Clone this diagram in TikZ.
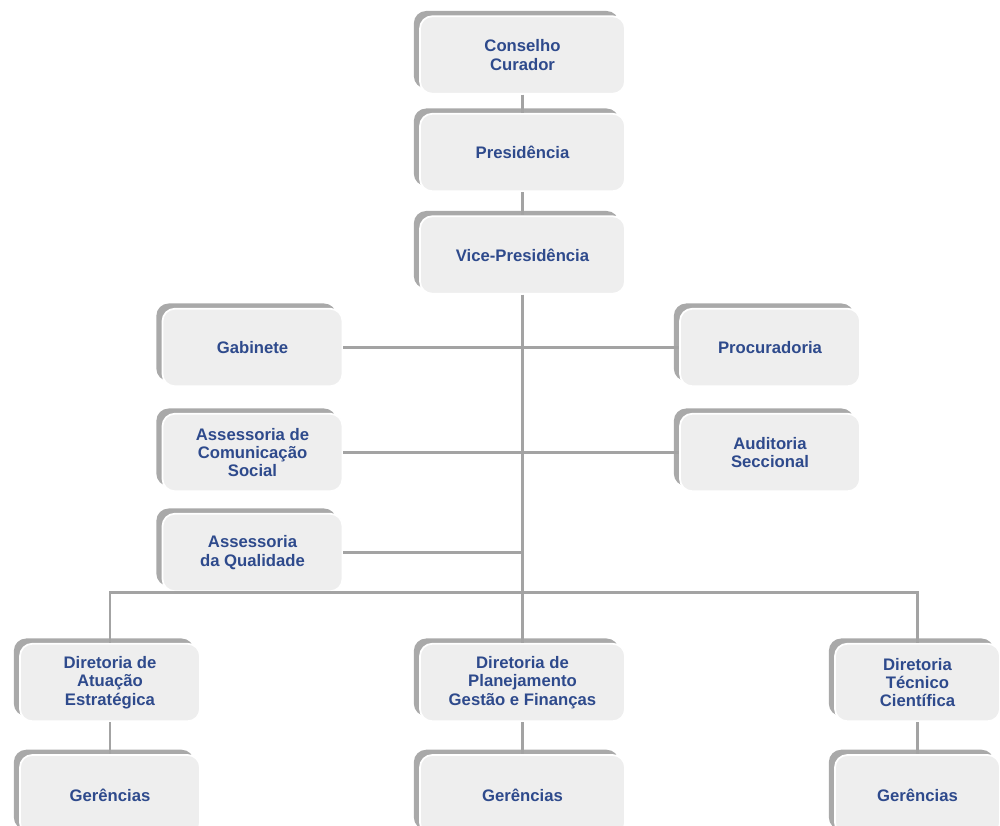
\documentclass[tikz,border=0pt]{standalone}
\usepackage{fontspec}
\setmainfont{Liberation Sans}
\usetikzlibrary{shadows}
\definecolor{orgText}{HTML}{2E4A8C}
\definecolor{orgFill}{HTML}{EEEEEE}
\definecolor{orgShadow}{HTML}{A9A9A9}
\definecolor{orgLine}{HTML}{A3A3A3}
\tikzset{
  unit/.style={draw=white, fill=orgFill, rounded corners=7pt, line width=1pt,
               general shadow={fill=orgShadow, shadow xshift=-3.5pt, shadow yshift=3pt},
               font=\fontsize{9.5}{10.5}\selectfont\bfseries, text=orgText, align=center,
               minimum height=1.55cm},
  topunit/.style={unit, minimum width=4.1cm},
  sideunit/.style={unit, minimum width=3.6cm},
  link/.style={draw=orgLine, line width=1.6pt}
}

\begin{document}
\begin{tikzpicture}
\useasboundingbox (0,0) rectangle (20,16.5);
\clip (0,0) rectangle (20,16.5);

% ------------------------------------------------------------
% TOP CHAIN
% ------------------------------------------------------------
\node[topunit] (cons) at (10.45,15.4) {Conselho\\Curador};
\node[topunit] (pres) at (10.45,13.45) {Presidência};
\node[topunit] (vice) at (10.45,11.4) {Vice-Presidência};

% ------------------------------------------------------------
% STAFF UNITS
% ------------------------------------------------------------
\node[sideunit] (gab)    at (5.05,9.55) {Gabinete};
\node[sideunit] (proc)   at (15.4,9.55) {Procuradoria};
\node[sideunit] (ascom)  at (5.05,7.45) {Assessoria de\\Comunicação\\Social};
\node[sideunit] (audit)  at (15.4,7.45) {Auditoria\\Seccional};
\node[sideunit] (asqual) at (5.05,5.45) {Assessoria\\da Qualidade};

% ------------------------------------------------------------
% DIRECTORATES
% ------------------------------------------------------------
\coordinate (bus) at (10.45,4.65);
\node[sideunit] (dirA) at (2.2,2.85) {Diretoria de\\Atuação\\Estratégica};
\node[topunit]  (dirP) at (10.45,2.85) {Diretoria de\\Planejamento\\Gestão e Finanças};
\node[unit, minimum width=3.3cm] (dirT) at (18.35,2.85) {Diretoria\\Técnico\\Científica};

\node[sideunit, minimum height=1.6cm] (gerA) at (2.2,0.6) {Gerências};
\node[topunit, minimum height=1.6cm]  (gerP) at (10.45,0.6) {Gerências};
\node[unit, minimum width=3.3cm, minimum height=1.6cm] (gerT) at (18.35,0.6) {Gerências};

% ------------------------------------------------------------
% CONNECTIONS
% ------------------------------------------------------------
\draw[link] (cons) -- (pres);
\draw[link] (pres) -- (vice);
\draw[link] (vice) -- (dirP);
\draw[link] (gab) -- (proc);
\draw[link] (ascom) -- (audit);
\draw[link] (asqual) -- (asqual -| vice);
\draw[link] (dirA) |- (bus) -| (dirT);
\draw[link] (dirA) -- (gerA);
\draw[link] (dirP) -- (gerP);
\draw[link] (dirT) -- (gerT);

\end{tikzpicture}
\end{document}
